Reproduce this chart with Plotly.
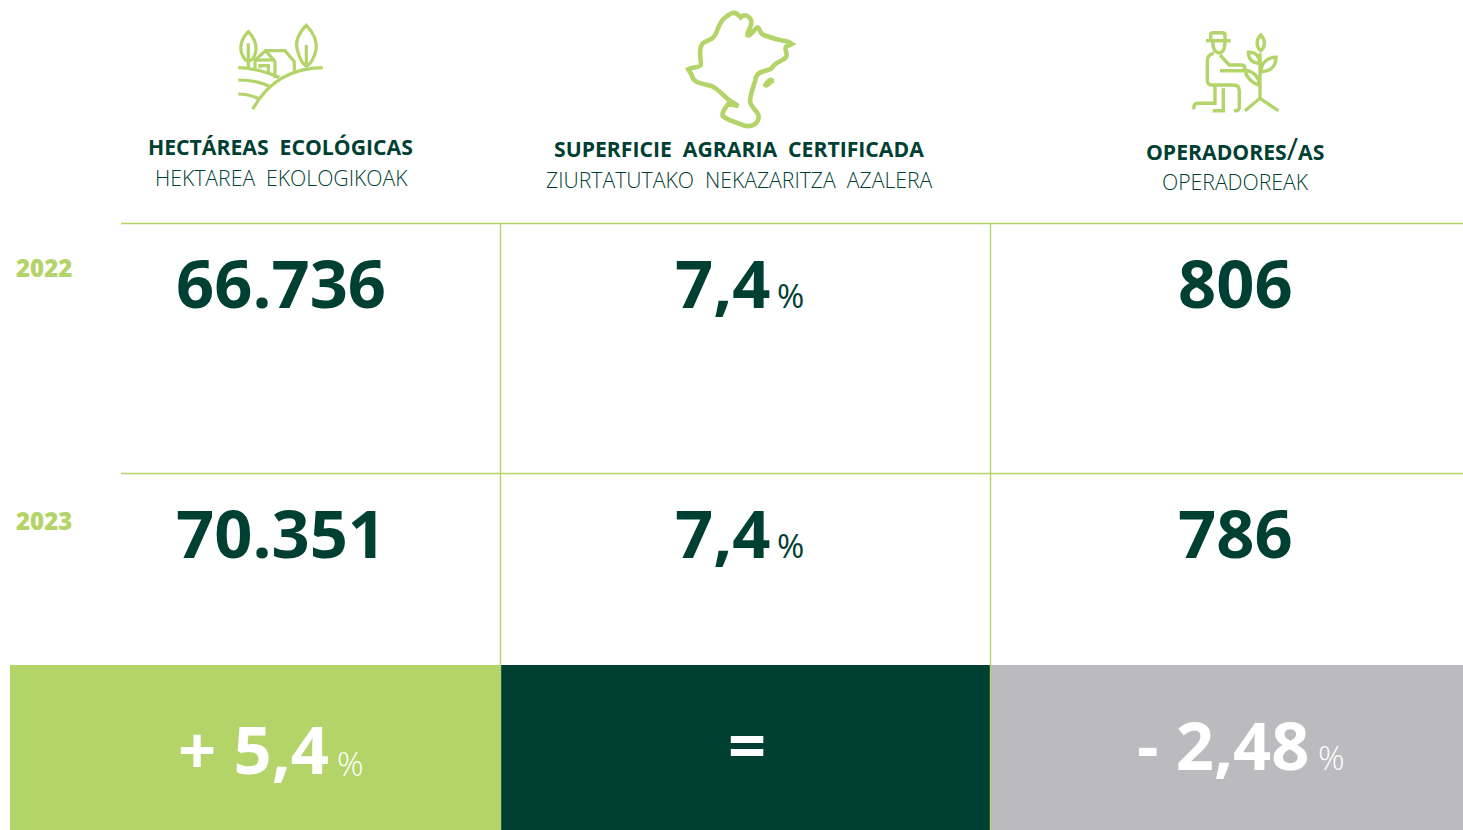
import re
import plotly.graph_objects as go

GREEN = "#B3D468"
DARK = "#004033"
GREY = "#BBBABE"
FONT = "Open Sans"

years = ["2022", "2023"]
titles = ["HECTÁREAS\u00a0 ECOLÓGICAS", "SUPERFICIE\u00a0 AGRARIA\u00a0 CERTIFICADA",
          'OPERADORES<span style="font-size:31px;font-weight:400">/</span>AS']
subtitles = ["HEKTAREA\u00a0 EKOLOGIKOAK", "ZIURTATUTAKO\u00a0 NEKAZARITZA\u00a0 AZALERA", "OPERADOREAK"]
values_2022 = ["66.736", "7,4", "806"]
values_2023 = ["70.351", "7,4", "786"]
units = ["", "%", ""]
changes = ["+ 5,4", "=", "- 2,48"]
change_units = ["%", "", "%"]
change_colors = [GREEN, DARK, GREY]

W, H = 1463, 830

# layout positions, in canvas pixels
col_centers = [281, 739, 1235]
title_x = [280, 739, 1235]
title_y = [146, 148, 147.5]
sub_y = [177, 179, 181]
icon_farm = [
    "M115,203 C150,203 190,212 238,232",
    "M158,328 C190,270 250,205 368,203",
    "M115,240 C160,240 190,248 215,262",
    "M115,282 C140,282 160,288 178,297",
    "M145,95 C125,115 118,140 125,160 C130,175 138,182 145,184 C152,182 162,175 166,160 C172,140 165,115 145,95 Z",
    "M145,130 L145,203",
    "M319,76 C295,100 285,125 292,150 C298,175 310,195 319,198 C330,195 343,175 348,150 C352,125 343,100 319,76 Z",
    "M319,135 L319,198",
    "M165,205 L165,180 L197,152 L255,152 L283,185 L283,212",
    "M197,152 L225,185 L225,235",
    "M165,180 L225,180",
    "M180,205 L180,197 L205,197 L205,220",
]
icon_map = [
    "M85,208 C100,200 120,203 122,195 C125,180 112,150 128,130 C145,118 160,122 170,95 C180,70 185,55 215,40 "
    "C225,35 232,40 242,52 C250,42 265,45 273,60 C280,75 262,90 262,105 C270,112 285,85 292,82 C300,82 297,98 310,105 "
    "C335,115 365,122 385,125 L395,132 L378,140 C372,150 385,160 378,172 C365,185 345,185 335,205 C320,215 295,210 288,232 "
    "C285,250 270,280 270,305 C275,325 295,335 296,350 C295,370 280,380 258,378 C235,370 200,360 188,348 C185,335 195,325 205,312 "
    "L235,318 L215,305 C195,295 180,270 155,258 C125,250 100,250 95,225 Z",
]
icon_map_blob = ["M314,255 C318,250 322,241 332,238 C339,240 339,246 331,248 C326,257 317,260 314,255 Z"]
icon_farmer = [
    "M108,62 L182,62",
    "M122,62 L122,45 Q122,38 130,38 L155,38 Q165,38 165,45 L165,62",
    "M128,62 C128,85 135,98 148,98 C160,98 165,85 165,62",
    "M132,100 C120,102 112,110 112,122 L112,180 Q112,195 125,195 L190,195 Q208,195 208,212 L208,262 Q208,272 198,272 L192,272",
    "M150,105 L178,135 L215,135 C225,135 228,145 218,152 L150,152",
    "M135,195 L135,250 L85,250 Q68,250 72,268",
    "M160,205 L160,272 L128,272",
    "M270,100 L270,235",
    "M225,272 L270,235 L325,272",
    "M272,45 C258,60 258,80 272,92 C287,80 287,60 272,45 Z",
    "M235,97 C235,120 250,130 270,130 C268,108 255,95 235,97 Z",
    "M318,112 C295,112 275,125 272,155 C300,155 318,140 318,112 Z",
    "M225,150 C228,170 245,190 268,195 C268,175 255,155 225,150 Z",
]


def to_canvas(path, ox, oy):
    """Turn a path drawn on a 3x crop into canvas pixels."""
    out, is_x = [], True
    for tok in re.findall(r"[A-Za-z]|-?[\d.]+", path):
        if tok.isalpha():
            out.append(tok)
            is_x = True
        else:
            v = float(tok) / 3 + (ox if is_x else oy)
            out.append(f"{v:.1f}")
            is_x = not is_x
    return " ".join(out)


shapes = []
for x0, x1, c in zip([10, 501, 990], [501, 990, 1463], change_colors):
    shapes.append(dict(type="rect", x0=x0, x1=x1, y0=665, y1=830, fillcolor=c, line_width=0, layer="below"))
for y in [223.5, 473.5]:
    shapes.append(dict(type="line", x0=121, x1=1463, y0=y, y1=y, line=dict(color=GREEN, width=1.4)))
for x in [500.5, 990.5]:
    shapes.append(dict(type="line", x0=x, x1=x, y0=223, y1=830, line=dict(color=GREEN, width=1.4)))
for paths, ox, oy, w in [(icon_farm, 200, 0, 3.2), (icon_map, 660, 0, 4.6), (icon_map_blob, 660, 0, 3.6),
                         (icon_farmer, 1170, 20, 3.4)]:
    for p in paths:
        shapes.append(dict(type="path", path=to_canvas(p, ox, oy), line=dict(color=GREEN, width=w)))

ann = []


def text(x, y, s, size, color, weight=400, anchor="center"):
    ann.append(dict(x=x, y=y, text=s, showarrow=False, xanchor=anchor, yanchor="middle",
                    font=dict(family=FONT, size=size, color=color, weight=weight)))


for i in range(3):
    text(title_x[i], title_y[i], titles[i], 21.2, DARK, 700)
    text(col_centers[i], sub_y[i], subtitles[i], 21.2, DARK, 300)

for yr, y, yy, vals in zip(years, [267.5, 520.5], [282, 532], [values_2022, values_2023]):
    text(44, y, yr, 24, GREEN, 800)
    for i in range(3):
        if units[i]:
            text(722, yy, vals[i], 66.8, DARK, 700)
            text(790.5, yy + 13, units[i], 33, DARK, 400)
        else:
            text(col_centers[i], yy, vals[i], 66.8, DARK, 700)

text(253, 748, changes[0], 66.8, "white", 700)
text(350, 763, change_units[0], 33, "white", 300)
text(747, 744.5, changes[1], 66.8, "white", 700)
text(1223, 744, changes[2], 66.8, "white", 700)
text(1331, 757, change_units[2], 33, "white", 300)

fig = go.Figure()
fig.update_layout(
    width=W, height=H, margin=dict(l=0, r=0, t=0, b=0), paper_bgcolor="white", plot_bgcolor="white",
    xaxis=dict(range=[0, W], visible=False, fixedrange=True),
    yaxis=dict(range=[H, 0], visible=False, fixedrange=True),
    shapes=shapes, annotations=ann, showlegend=False,
)
fig.write_html("out.html", config=dict(displayModeBar=False),
               post_script="document.body.style.margin='0';document.body.style.overflow='hidden';")
